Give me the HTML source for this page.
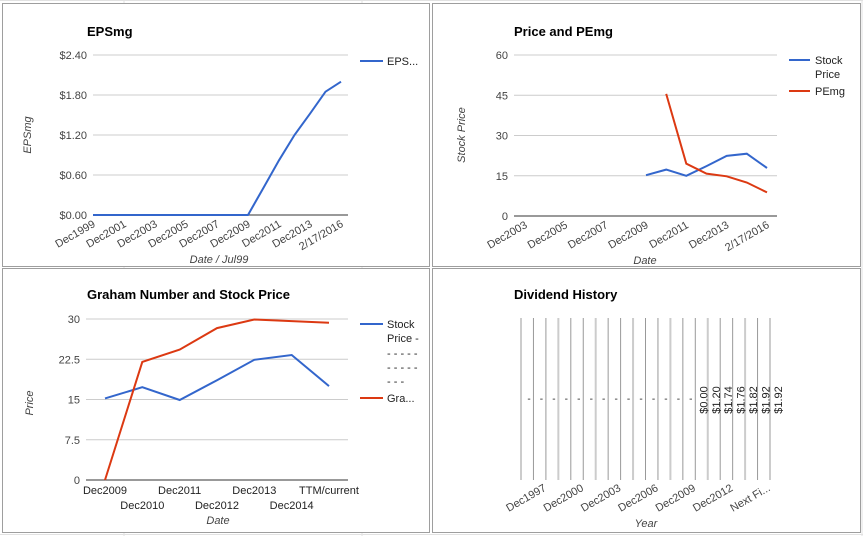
<!DOCTYPE html>
<html><head><meta charset="utf-8"><style>
body{margin:0;width:863px;height:536px;background:#fff;overflow:hidden;font-family:"Liberation Sans",Arial,sans-serif}
svg{position:absolute;left:0;top:0}
</style></head><body>
<svg id="s" width="863" height="536">
<g stroke="#e2e2e2">
<line x1="0" y1="0.5" x2="863" y2="0.5"/><line x1="124" y1="0" x2="124" y2="536"/><line x1="362" y1="0" x2="362" y2="536"/>
<line x1="0" y1="534.5" x2="863" y2="534.5"/><line x1="862" y1="0" x2="862" y2="536"/>
</g>
<rect x="2.5" y="3.5" width="427" height="263" fill="#fff" stroke="#9e9e9e"/>
<rect x="432.5" y="3.5" width="428" height="263" fill="#fff" stroke="#9e9e9e"/>
<rect x="2.5" y="268.5" width="427" height="264" fill="#fff" stroke="#9e9e9e"/>
<rect x="432.5" y="268.5" width="428" height="264" fill="#fff" stroke="#9e9e9e"/>
</svg>
<script>
const svg=document.getElementById('s');
const NS='http://www.w3.org/2000/svg';
function mk(t,a,txt){const e=document.createElementNS(NS,t);for(const k in a)e.setAttribute(k,a[k]);if(txt!==undefined)e.textContent=txt;svg.appendChild(e);return e;}

// ---- Chart 1 data ----
const c1Cats=['Dec1999','Dec2000','Dec2001','Dec2002','Dec2003','Dec2004','Dec2005','Dec2006','Dec2007','Dec2008','Dec2009','Dec2010','Dec2011','Dec2012','Dec2013','Dec2014','2/17/2016'];
const c1Eps=[0,0,0,0,0,0,0,0,0,0,0,0.41,0.82,1.2,1.52,1.85,2.0];
const c1Ticks=[0,0.6,1.2,1.8,2.4];
// ---- Chart 2 data ----
const c2Cats=['Dec2003','Dec2004','Dec2005','Dec2006','Dec2007','Dec2008','Dec2009','Dec2010','Dec2011','Dec2012','Dec2013','Dec2014','2/17/2016'];
const c2Price=[null,null,null,null,null,null,15.2,17.3,15.0,18.6,22.4,23.2,17.9];
const c2Pe=[null,null,null,null,null,null,null,45.5,19.5,15.8,14.8,12.5,8.8];
const c2Ticks=[0,15,30,45,60];
// ---- Chart 3 data ----
const c3Cats=['Dec2009','Dec2010','Dec2011','Dec2012','Dec2013','Dec2014','TTM/current'];
const c3Price=[15.2,17.3,14.9,18.6,22.4,23.3,17.5];
const c3Graham=[0,22,24.3,28.3,29.9,29.6,29.3];
const c3Ticks=[0,7.5,15,22.5,30];
// ---- Chart 4 data ----
const c4Cats=['','','Dec1997','','','Dec2000','','','Dec2003','','','Dec2006','','','Dec2009','','','Dec2012','','','Next Fi...'];
const c4Vals=[null,null,null,null,null,null,null,null,null,null,null,null,null,null,0,1.2,1.74,1.76,1.82,1.92,1.92];

function lineChart(o){
  const {x0,x1,y0,y1,vmax,cats,ticks,fmt,xFirst,xLast}=o;
  const X=i=>xFirst+(xLast-xFirst)*i/(cats.length-1);
  const Y=v=>y0-(y0-y1)*v/vmax;
  ticks.forEach(t=>{
    const l=mk('line',{x1:x0,x2:x1,y1:Y(t),y2:Y(t),stroke:t===0?'#333':'#ccc','stroke-width':1});
    
    
    const tx=mk('text',{x:x0-6,y:Y(t)+4,'text-anchor':'end','font-size':11,fill:'#444'},fmt(t));
    
    
  });
  o.series.forEach(s=>{
    let d='';let pen=false;
    s.vals.forEach((v,i)=>{if(v===null){pen=false;return;}d+=(pen?'L':'M')+X(i).toFixed(1)+' '+Y(v).toFixed(1);pen=true;});
    const p=mk('path',{d,fill:'none',stroke:s.color,'stroke-width':2});
    
    
  });
  return {X,Y};
}

// Chart 1
(function(){
  const r=lineChart({x0:93,x1:348,y0:215,y1:55,vmax:2.4,cats:c1Cats,ticks:c1Ticks,fmt:t=>'$'+t.toFixed(2),xFirst:93,xLast:341,
    series:[{vals:c1Eps,color:'#3366cc',name:'eps-line'}]});
  c1Cats.forEach((c,i)=>{if(i%2)return;
    const t=mk('text',{x:r.X(i)+3,y:226,'text-anchor':'end','font-size':11,fill:'#444',transform:`rotate(-30 ${r.X(i)+3} 226)`},c);
    
    });
})();
mk('text',{x:87,y:36,'font-size':13,'font-weight':'bold',fill:'#000',},'EPSmg');
mk('text',{x:31,y:135,'font-size':11,'font-style':'italic',fill:'#444','text-anchor':'middle',transform:'rotate(-90 31 135)',},'EPSmg');
mk('text',{x:219,y:263,'font-size':11,'font-style':'italic',fill:'#444','text-anchor':'middle',},'Date / Jul99');
mk('line',{x1:360,x2:383,y1:61,y2:61,stroke:'#3366cc','stroke-width':2,});
mk('text',{x:387,y:65,'font-size':11,fill:'#222',},'EPS...');

// Chart 2
(function(){
  const r=lineChart({x0:514,x1:777,y0:216,y1:55,vmax:60,cats:c2Cats,ticks:c2Ticks,fmt:t=>String(t),xFirst:525,xLast:767,
    series:[{vals:c2Price,color:'#3366cc',name:'stock-price-line'},{vals:c2Pe,color:'#dc3912',name:'pemg-line'}]});
  c2Cats.forEach((c,i)=>{if(i%2)return;
    const x=r.X(i)+3;
    const t=mk('text',{x,y:227,'text-anchor':'end','font-size':11,fill:'#444',transform:`rotate(-30 ${x} 227)`},c);
    
    });
})();
mk('text',{x:514,y:36,'font-size':13,'font-weight':'bold',fill:'#000',},'Price and PEmg');
mk('text',{x:465,y:135,'font-size':11,'font-style':'italic',fill:'#444','text-anchor':'middle',transform:'rotate(-90 465 135)',},'Stock Price');
mk('text',{x:645,y:264,'font-size':11,'font-style':'italic',fill:'#444','text-anchor':'middle',},'Date');
mk('line',{x1:789,x2:810,y1:60,y2:60,stroke:'#3366cc','stroke-width':2,});
mk('text',{x:815,y:64,'font-size':11,fill:'#222',},'Stock');
mk('text',{x:815,y:78,'font-size':11,fill:'#222',},'Price');
mk('line',{x1:789,x2:810,y1:91,y2:91,stroke:'#dc3912','stroke-width':2,});
mk('text',{x:815,y:95,'font-size':11,fill:'#222',},'PEmg');

// Chart 3
(function(){
  const r=lineChart({x0:86,x1:348,y0:480,y1:319,vmax:30,cats:c3Cats,ticks:c3Ticks,fmt:t=>String(t),xFirst:105,xLast:329,
    series:[{vals:c3Price,color:'#3366cc',name:'stock-price-line'},{vals:c3Graham,color:'#dc3912',name:'graham-number-line'}]});
  c3Cats.forEach((c,i)=>{
    const t=mk('text',{x:r.X(i),y:i%2?509:494,'text-anchor':'middle','font-size':11,fill:'#222'},c);
    
    });
})();
mk('text',{x:87,y:299,'font-size':13,'font-weight':'bold',fill:'#000',},'Graham Number and Stock Price');
mk('text',{x:33,y:403,'font-size':11,'font-style':'italic',fill:'#444','text-anchor':'middle',transform:'rotate(-90 33 403)',},'Price');
mk('text',{x:218,y:524,'font-size':11,'font-style':'italic',fill:'#444','text-anchor':'middle',},'Date');
mk('line',{x1:360,x2:383,y1:324,y2:324,stroke:'#3366cc','stroke-width':2,});
[['Stock',328],['Price -',342],['- - - - -',357],['- - - - -',371],['- - -',385]].forEach(a=>{
  const t=mk('text',{x:387,y:a[1],'font-size':11,fill:'#222'},a[0]);
  
  });
mk('line',{x1:360,x2:383,y1:398,y2:398,stroke:'#dc3912','stroke-width':2,});
mk('text',{x:387,y:402,'font-size':11,fill:'#222',},'Gra...');

// Chart 4
(function(){
  const xL=521,xR=770,n=c4Cats.length-1;
  const X=i=>xL+(xR-xL)*i/n;
  for(let i=0;i<=n;i++){
    const l=mk('line',{x1:X(i),x2:X(i),y1:318,y2:480,stroke:i%3===0?'#ccc':'#999','stroke-width':i%3===0?2:1});
    
    
  }
  c4Vals.forEach((v,i)=>{
    const cx=X(i)+8;
    let t;
    if(v===null){t=mk('text',{x:cx,y:402,'text-anchor':'middle','font-size':10,fill:'#222'},'-');}
    else{t=mk('text',{x:cx+4,y:400,'text-anchor':'middle','font-size':11,fill:'#222',transform:`rotate(-90 ${cx+4} 400)`},'$'+v.toFixed(2));}
    
    
  });
  c4Cats.forEach((c,i)=>{if(!c)return;
    const x=X(i)+1;
    const t=mk('text',{x,y:490,'text-anchor':'end','font-size':11,fill:'#444',transform:`rotate(-30 ${x} 490)`},c);
    
    });
})();
mk('text',{x:514,y:299,'font-size':13,'font-weight':'bold',fill:'#000',},'Dividend History');
mk('text',{x:646,y:527,'font-size':11,'font-style':'italic',fill:'#444','text-anchor':'middle',},'Year');
</script>
</body></html>
